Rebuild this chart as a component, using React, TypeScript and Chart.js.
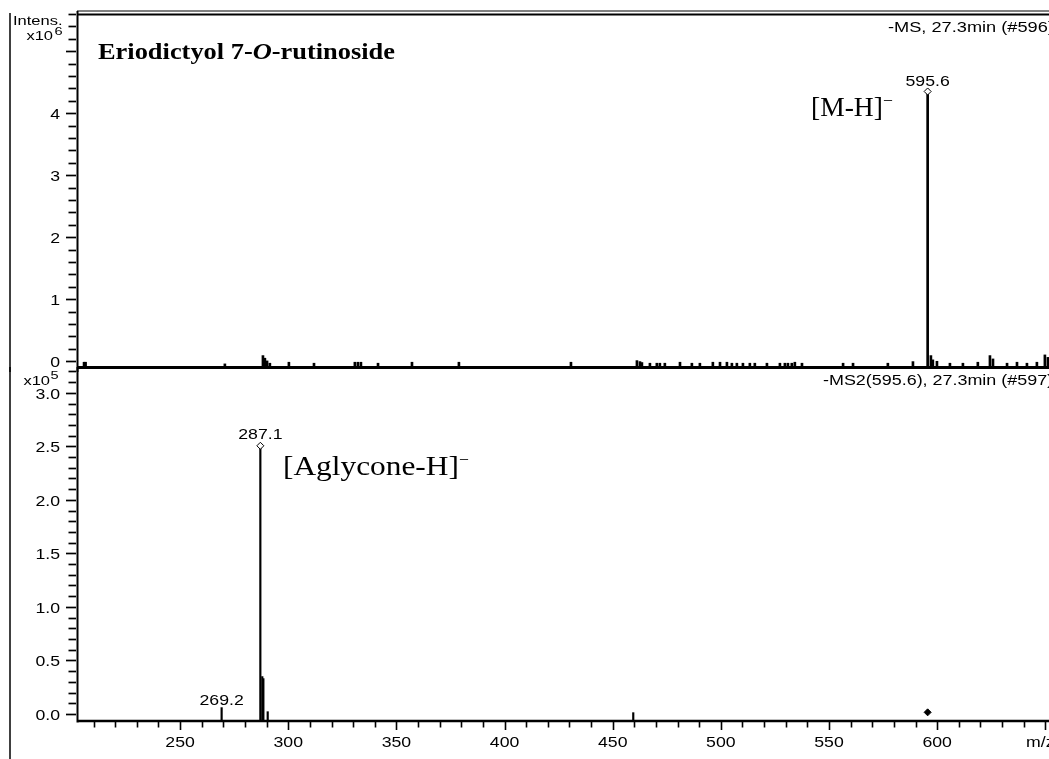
import React, { useEffect, useRef } from "react";
import { Chart, registerables } from "chart.js";

Chart.register(...registerables);

// ---------------- data ----------------
const X_MIN = 202.8;
const X_MAX = 651.7;
const X_TICK_STEP = 10;
const X_TICK_LABELS = ["250", "300", "350", "400", "450", "500", "550", "600"];

// upper panel (MS, intensity x10^6)
const Y1_MIN = -0.095;
const Y1_MAX = 5.6;
const Y1_MINOR = 0.2;
const Y1_TICK_LABELS = ["0", "1", "2", "3", "4"];

// lower panel (MS2, intensity x10^5)
const Y2_MIN = -0.066;
const Y2_MAX = 3.241;
const Y2_MINOR = 0.1;
const Y2_TICK_LABELS = ["0.0", "0.5", "1.0", "1.5", "2.0", "2.5", "3.0"];

const MS1_MZ = [
  205.6, 206.3, 270.7, 288.3, 289.2, 290.2, 291.5, 300.3, 311.9, 330.8, 332.2, 333.6,
  341.5, 357.2, 378.9, 430.7, 461.2, 462.6, 463.5, 467.2, 470.4, 471.8, 474.1, 481.1,
  486.6, 490.3, 496.3, 499.6, 502.8, 505.1, 507.4, 510.2, 513.4, 515.7, 521.3, 527.3,
  529.6, 531.0, 532.8, 534.2, 537.5, 556.5, 561.1, 577.2, 588.8, 595.6, 597.1, 598.0,
  599.9, 605.9, 611.9, 618.8, 624.4, 625.8, 632.3, 636.9, 641.5, 646.1, 649.8, 651.2,
];
const MS1_INT = [
  -0.018, -0.018, -0.045, 0.089, 0.047, 0.003, -0.034, -0.018, -0.034, -0.018, -0.018, -0.018,
  -0.034, -0.018, -0.018, -0.018, 0.008, -0.008, -0.023, -0.034, -0.034, -0.034, -0.034, -0.018,
  -0.034, -0.034, -0.018, -0.018, -0.018, -0.034, -0.034, -0.034, -0.034, -0.034, -0.034, -0.034,
  -0.034, -0.034, -0.034, -0.018, -0.034, -0.034, -0.034, -0.034, -0.008, 4.35, 0.089, 0.02,
  -0.003, -0.034, -0.034, -0.018, 0.089, 0.035, -0.034, -0.018, -0.034, -0.018, 0.1, 0.06,
];
const MS1_MARK_MZ = [595.6];
const MS1_MARK_INT = [4.35];
const MS1_MARK_TEXT = ["595.6"];

const MS2_MZ = [269.2, 287.1, 288.0, 288.5, 290.5, 459.5];
const MS2_INT = [0.059, 2.505, 0.349, 0.33, 0.021, 0.012];
const MS2_MARK_MZ = [287.1];
const MS2_MARK_INT = [2.505];
const MS2_LABEL_MZ = [287.1, 269.2];
const MS2_LABEL_INT = [2.505, 0.059];
const MS2_LABEL_TEXT = ["287.1", "269.2"];
const MS2_LABEL_MARKED = [true, false];
const PRECURSOR_MZ = [595.6];
const PRECURSOR_INT = [0.015];

const TITLE_PARTS = ["Eriodictyol 7-", "O", "-rutinoside"];
const MS1_HEADER = "-MS, 27.3min (#596)";
const MS2_HEADER = "-MS2(595.6), 27.3min (#597)";
const MS1_ION = "[M-H]";
const MS2_ION = "[Aglycone-H]";

// ---------------- drawing helpers ----------------
const W = 1049;
const H = 759;
const BOTTOM_TOP = 367;
const SANS = '"Liberation Sans", Arial, Helvetica, sans-serif';
const SERIF = '"Liberation Serif", "Times New Roman", serif';
const SX = 1.27;

function drawText(
  ctx: CanvasRenderingContext2D,
  s: string,
  x: number,
  y: number,
  font: string,
  align: "left" | "right" | "center",
  sx: number = SX
): number {
  ctx.save();
  ctx.font = font;
  const w = ctx.measureText(s).width * sx;
  const x0 = align === "left" ? x : align === "right" ? x - w : x - w / 2;
  ctx.translate(x0, y);
  ctx.scale(sx, 1);
  ctx.textAlign = "left";
  ctx.textBaseline = "alphabetic";
  ctx.fillStyle = "#000";
  ctx.fillText(s, 0, 0);
  ctx.restore();
  return x0 + w;
}

function line(ctx: CanvasRenderingContext2D, x1: number, y1: number, x2: number, y2: number, lw: number) {
  ctx.save();
  ctx.strokeStyle = "#000";
  ctx.lineWidth = lw;
  ctx.beginPath();
  ctx.moveTo(x1, y1);
  ctx.lineTo(x2, y2);
  ctx.stroke();
  ctx.restore();
}

function yTicks(ctx: CanvasRenderingContext2D, yScale: any, max: number, step: number, labels: string[]) {
  const n = Math.round(max / step + 1e-6);
  for (let i = 0; i <= n; i++) {
    const v = i * step;
    if (v > max + 1e-9) break;
    const py = Math.round(yScale.getPixelForValue(v)) + 0.5;
    const major = i % 5 === 0;
    line(ctx, major ? 66 : 68.5, py, 76, py, 1.7);
    const li = i / 5;
    if (major && li < labels.length) {
      drawText(ctx, labels[li], 60, py + 5, `14.5px ${SANS}`, "right", 1.22);
    }
  }
}

const topDecor = {
  id: "topDecor",
  afterDraw(chart: any) {
    const { ctx, chartArea: a, scales } = chart;
    const x = scales.x;
    const y = scales.y;
    ctx.save();
    // frame
    line(ctx, 10, 13, 10, chart.height, 1.5);
    line(ctx, a.left - 1, 11, a.right, 11, 1);
    line(ctx, a.left - 1, 14.5, a.right, 14.5, 2);
    line(ctx, a.left - 0.5, 11, a.left - 0.5, chart.height, 2);
    line(ctx, a.left, a.bottom + 0.5, a.right, a.bottom + 0.5, 3);
    // y axis
    yTicks(ctx, y, Y1_MAX, Y1_MINOR, Y1_TICK_LABELS);
    drawText(ctx, "Intens.", 13, 25, `13px ${SANS}`, "left");
    drawText(ctx, "x10", 53, 39.5, `13px ${SANS}`, "right");
    drawText(ctx, "6", 54.5, 34.5, `11.5px ${SANS}`, "left");
    // title
    let tx = 98;
    const tf = 24;
    const tsx = 1.1;
    tx = drawText(ctx, TITLE_PARTS[0], tx, 59, `bold ${tf}px ${SERIF}`, "left", tsx);
    tx = drawText(ctx, TITLE_PARTS[1], tx, 59, `italic bold ${tf}px ${SERIF}`, "left", tsx);
    drawText(ctx, TITLE_PARTS[2], tx, 59, `bold ${tf}px ${SERIF}`, "left", tsx);
    // header
    drawText(ctx, MS1_HEADER, 888, 31.5, `14px ${SANS}`, "left", 1.3);
    // peak labels
    MS1_MARK_MZ.forEach((m, i) => {
      drawText(ctx, MS1_MARK_TEXT[i], x.getPixelForValue(m), y.getPixelForValue(MS1_MARK_INT[i]) - 5, `14.5px ${SANS}`, "center", 1.22);
    });
    // ion annotation
    const e = drawText(ctx, MS1_ION, 811, 116, `27px ${SERIF}`, "left", 1.02);
    drawText(ctx, "\u2013", e + 1, 104, `16px ${SERIF}`, "left", 1.0);
    ctx.restore();
  },
};

const bottomDecor = {
  id: "bottomDecor",
  afterDraw(chart: any) {
    const { ctx, chartArea: a, scales } = chart;
    const x = scales.x;
    const y = scales.y;
    const o = BOTTOM_TOP;
    ctx.save();
    line(ctx, 10, 0, 10, chart.height, 1.5);
    line(ctx, a.left - 0.5, 0, a.left - 0.5, a.bottom + 1.5, 2);
    line(ctx, a.left, a.bottom, a.right, a.bottom, 2.5);
    // x ticks
    const first = Math.ceil(X_MIN / X_TICK_STEP) * X_TICK_STEP;
    for (let v = first; v <= X_MAX; v += X_TICK_STEP) {
      const px = Math.round(x.getPixelForValue(v)) + 0.5;
      const major = v % 50 === 0;
      line(ctx, px, a.bottom, px, a.bottom + (major ? 9 : 6.5), 1.6);
    }
    X_TICK_LABELS.forEach((l) => {
      drawText(ctx, l, x.getPixelForValue(Number(l)), a.bottom + 26, `14.5px ${SANS}`, "center", 1.22);
    });
    drawText(ctx, "m/z", 1026, a.bottom + 26, `14.5px ${SANS}`, "left", 1.22);
    // y axis
    yTicks(ctx, y, 3.2, Y2_MINOR, Y2_TICK_LABELS);
    drawText(ctx, "x10", 50, 385 - o, `13px ${SANS}`, "right");
    drawText(ctx, "5", 50.5, 379 - o, `11.5px ${SANS}`, "left");
    // header
    drawText(ctx, MS2_HEADER, 823, 385 - o, `14px ${SANS}`, "left", 1.28);
    // peak labels
    MS2_LABEL_MZ.forEach((m, i) => {
      const off = MS2_LABEL_MARKED[i] ? 7 : 3;
      drawText(ctx, MS2_LABEL_TEXT[i], x.getPixelForValue(m), y.getPixelForValue(MS2_LABEL_INT[i]) - off, `14.5px ${SANS}`, "center", 1.22);
    });
    const e = drawText(ctx, MS2_ION, 283, 475 - o, `28px ${SERIF}`, "left", 1.12);
    drawText(ctx, "\u2013", e + 1, 463 - o, `16px ${SERIF}`, "left", 1.0);
    ctx.restore();
  },
};

function pts(xs: number[], ys: number[]) {
  return xs.map((m, i) => ({ x: m, y: ys[i] }));
}

function baseOptions(yMin: number, yMax: number, padding: any) {
  return {
    responsive: false,
    animation: false as const,
    devicePixelRatio: 1,
    events: [] as any[],
    layout: { padding, autoPadding: false },
    plugins: { legend: { display: false }, tooltip: { enabled: false }, title: { display: false } },
    scales: {
      x: { type: "linear" as const, min: X_MIN, max: X_MAX, display: false, offset: false, grid: { offset: false } },
      y: { type: "linear" as const, min: yMin, max: yMax, display: false },
    },
  };
}

export default function App() {
  const topRef = useRef<HTMLCanvasElement | null>(null);
  const botRef = useRef<HTMLCanvasElement | null>(null);

  useEffect(() => {
    if (!topRef.current || !botRef.current) return;
    const top = new Chart(topRef.current, {
      type: "bar",
      data: {
        datasets: [
          {
            type: "line",
            data: pts(MS1_MARK_MZ, MS1_MARK_INT),
            showLine: false,
            pointStyle: "rectRot",
            pointRadius: 3.5,
            pointBackgroundColor: "#fff",
            pointBorderColor: "#000",
            pointBorderWidth: 1,
            clip: false,
            order: 0,
          } as any,
          {
            type: "bar",
            data: pts(MS1_MZ, MS1_INT),
            backgroundColor: "#000",
            borderWidth: 0,
            barThickness: 2,
            base: Y1_MIN,
            grouped: false,
            order: 1,
          } as any,
        ],
      },
      options: baseOptions(Y1_MIN, Y1_MAX, { left: 78, top: 14, right: 0, bottom: 5 }) as any,
      plugins: [topDecor],
    });

    const bottom = new Chart(botRef.current, {
      type: "bar",
      data: {
        datasets: [
          {
            type: "line",
            data: pts(MS2_MARK_MZ, MS2_MARK_INT),
            showLine: false,
            pointStyle: "rectRot",
            pointRadius: 3.5,
            pointBackgroundColor: "#fff",
            pointBorderColor: "#000",
            pointBorderWidth: 1,
            clip: false,
            order: 0,
          } as any,
          {
            type: "line",
            data: pts(PRECURSOR_MZ, PRECURSOR_INT),
            showLine: false,
            pointStyle: "rectRot",
            pointRadius: 3.5,
            pointBackgroundColor: "#000",
            pointBorderColor: "#000",
            pointBorderWidth: 1,
            clip: false,
            order: 0,
          } as any,
          {
            type: "bar",
            data: pts(MS2_MZ, MS2_INT),
            backgroundColor: "#000",
            borderWidth: 0,
            barThickness: 1.5,
            base: Y2_MIN,
            grouped: false,
            order: 1,
          } as any,
        ],
      },
      options: baseOptions(Y2_MIN, Y2_MAX, { left: 78, top: 0, right: 0, bottom: 38 }) as any,
      plugins: [bottomDecor],
    });

    return () => {
      top.destroy();
      bottom.destroy();
    };
  }, []);

  return (
    <div style={{ position: "fixed", left: 0, top: 0, width: W, height: H, background: "#fff", overflow: "hidden" }}>
      <canvas ref={topRef} width={W} height={372} style={{ position: "absolute", left: 0, top: 0, width: W, height: 372 }} />
      <canvas
        ref={botRef}
        width={W}
        height={H - BOTTOM_TOP}
        style={{ position: "absolute", left: 0, top: BOTTOM_TOP, width: W, height: H - BOTTOM_TOP }}
      />
    </div>
  );
}
